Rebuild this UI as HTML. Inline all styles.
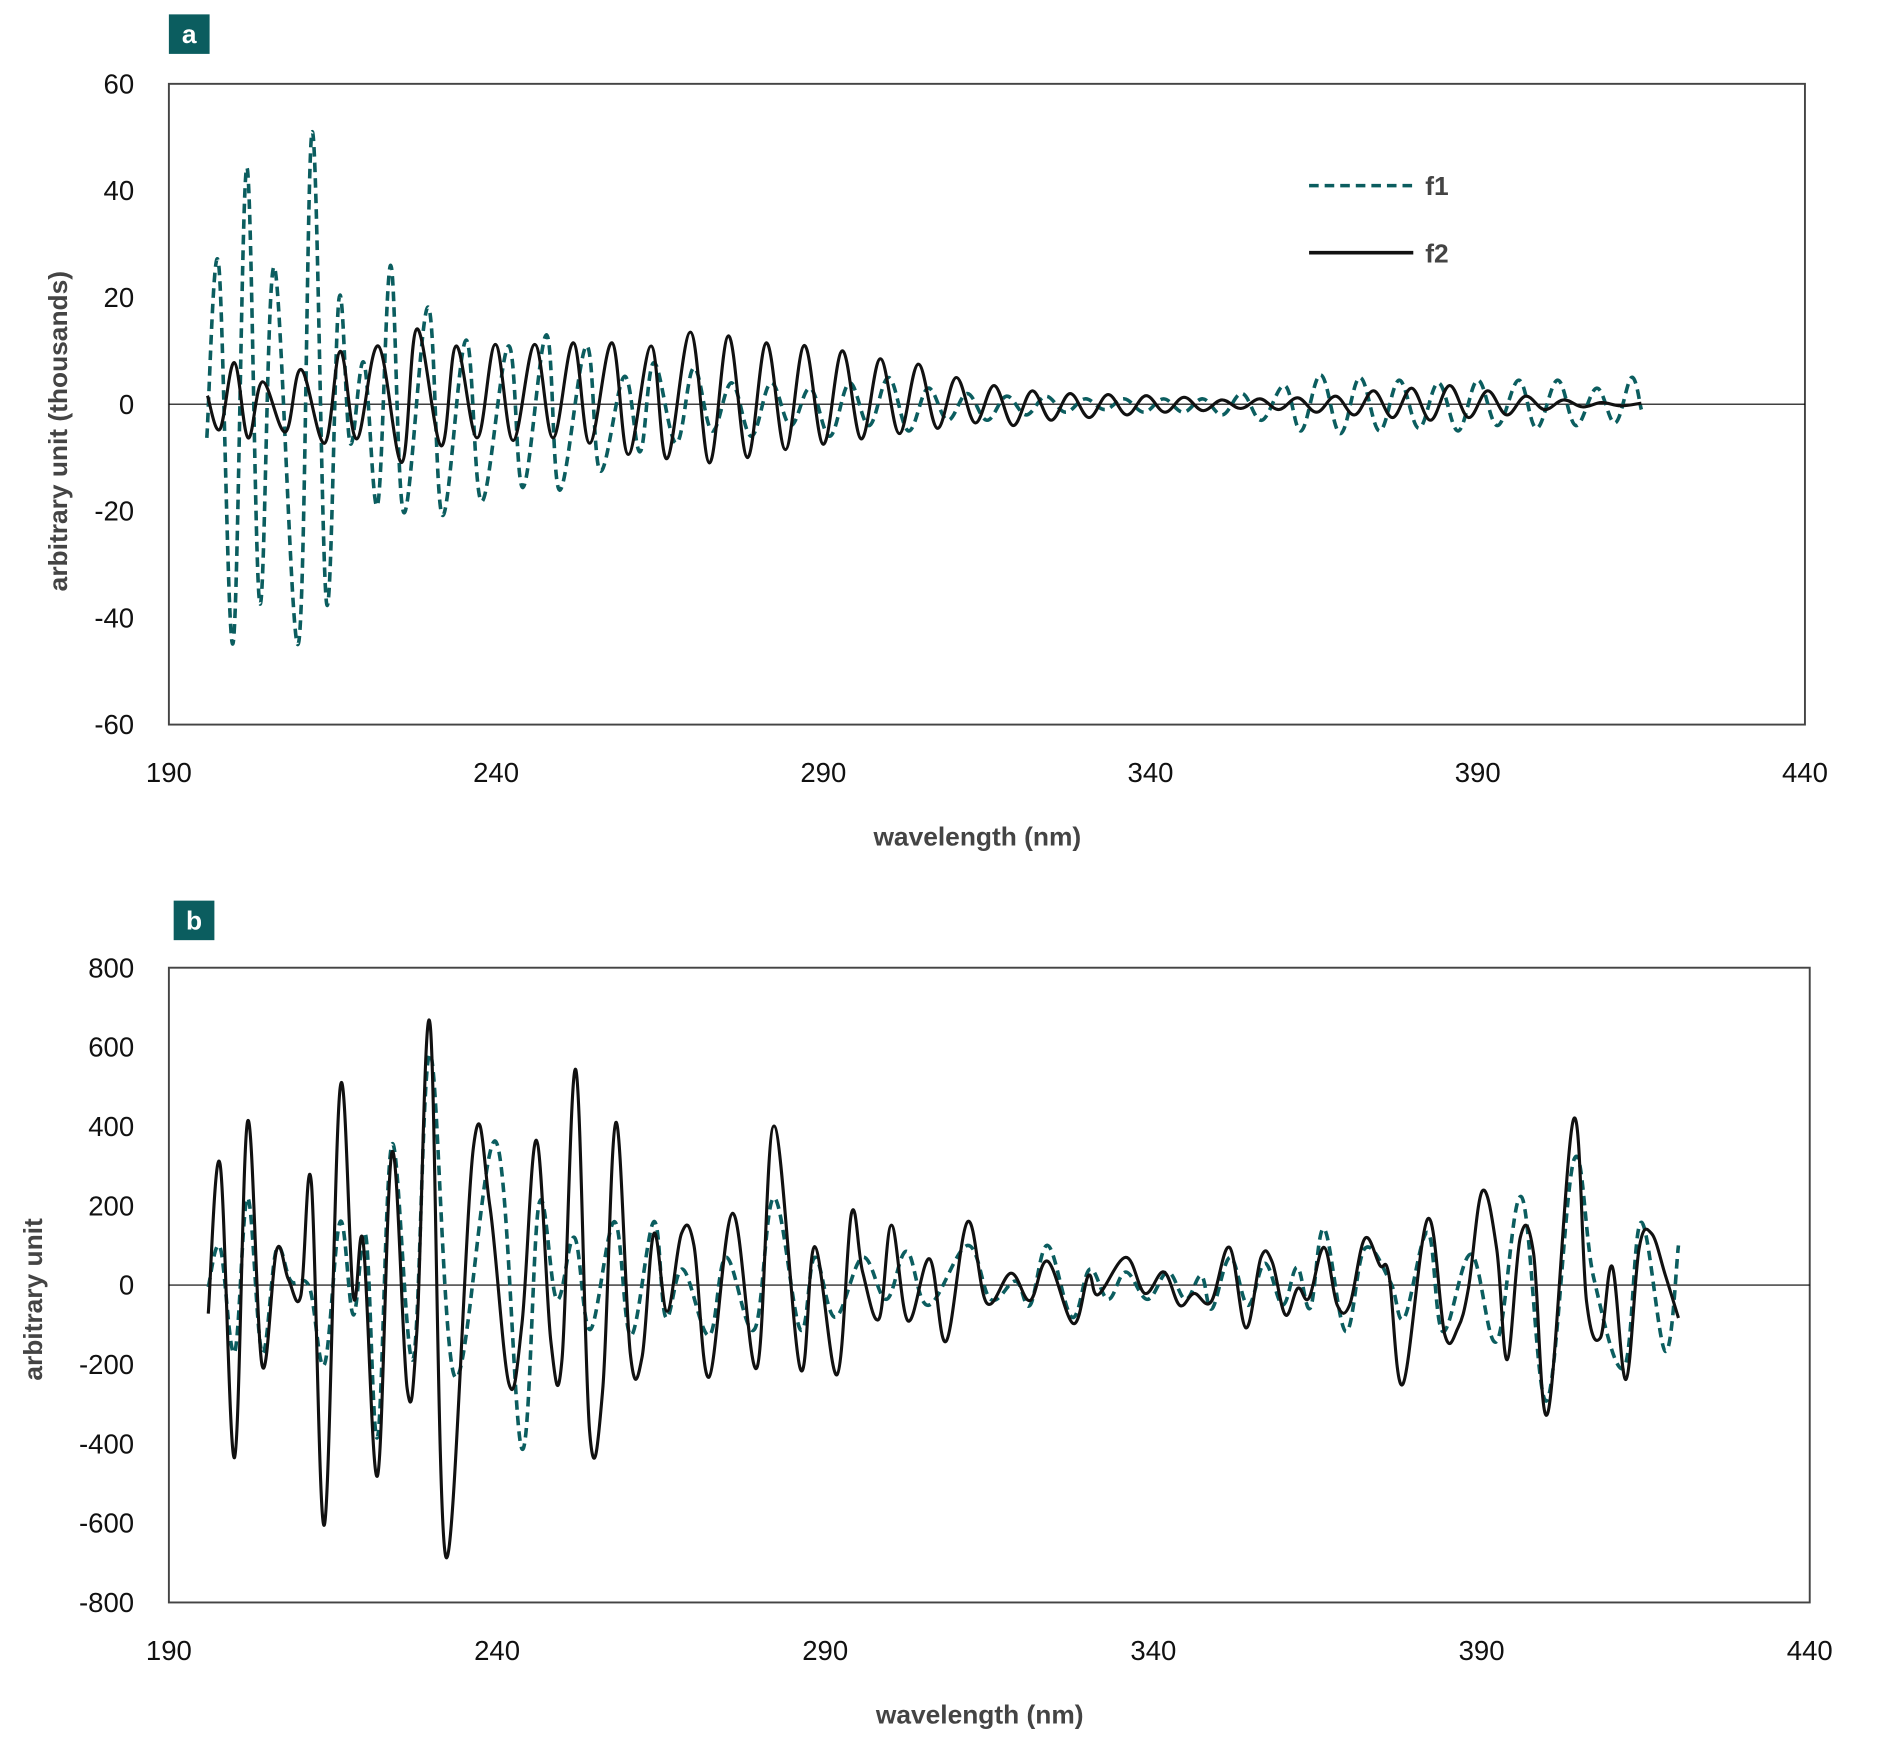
<!DOCTYPE html>
<html><head><meta charset="utf-8"><style>
html,body{margin:0;padding:0;background:#fff;}
svg{display:block;font-family:"Liberation Sans",sans-serif;}
</style></head><body>
<svg id="fig" width="1878" height="1739" viewBox="0 0 1568 1452" preserveAspectRatio="none" xmlns="http://www.w3.org/2000/svg">
<g id="ga"></g>
<g id="gb"></g>
</svg>
<script>
// ---- data ----
const xTicks = [190, 240, 290, 340, 390, 440];
const aYTicks = [60, 40, 20, 0, -20, -40, -60];
const bYTicks = [800, 600, 400, 200, 0, -200, -400, -600, -800];
const seriesNames = ["f1", "f2"];

const aF1 = [[195.8,-6.3],[197.6,26.3],[199.8,-44.8],[201.9,44.3],[203.9,-37.3],[206.1,25.7],[209.8,-44.8],[211.9,51],[214.1,-37.3],[216,19.8],[217.7,-7.3],[219.8,7.8],[221.9,-18.8],[223.9,26],[225.9,-20.3],[229.6,18.2],[231.8,-20.8],[235.4,12],[237.8,-18.2],[241.9,10.9],[244.1,-15.6],[247.7,13],[249.7,-16.1],[253.8,10.9],[255.9,-12.5],[259.6,5.2],[262,-8.9],[264.1,7.8],[267.5,-7.3],[270.2,6.8],[273,-5],[276,4],[279,-6],[282,4],[285,-4],[288,3],[291,-6],[294,4],[297,-4],[300,5],[303,-5],[306,3],[309,-3],[312,2],[315,-3],[318,1.5],[321,-2],[324,1.5],[327,-1.5],[330,1],[333,-1],[336,1],[339,-1.5],[342,1],[345,-1.5],[348,1],[351,-2],[354,2],[357,-3],[360.5,3.5],[363,-5],[366,5.5],[369,-5.5],[372,5],[375,-5],[378,4.5],[381,-4.5],[384,4],[387,-5],[390,4.5],[393,-4],[396.3,4.5],[399,-4.5],[402.2,4.5],[405,-4],[408.2,3],[411,-3.5],[413.5,5],[415,-1]];

const aF2 = [[195.9,1.6],[197.8,-4.7],[200,7.8],[202.1,-6.3],[204.3,4.2],[207.8,-5.2],[210.2,6.5],[213.8,-7.3],[216.2,9.9],[218.7,-6.5],[222,10.9],[225.6,-10.9],[227.9,14.1],[231.6,-7.8],[233.9,10.9],[237.1,-6.3],[239.9,11.2],[242.6,-6.8],[245.9,11.2],[248.7,-6.3],[251.8,11.5],[254.3,-7.3],[257.7,11.5],[260.2,-9.4],[263.7,10.9],[266.1,-10.2],[269.7,13.5],[272.6,-11],[275.5,12.8],[278.4,-10],[281.3,11.5],[284.2,-8.5],[287.1,11],[290,-7.5],[292.9,10],[295.8,-6.5],[298.7,8.5],[301.6,-5.5],[304.5,7.5],[307.4,-4.5],[310.3,5],[313.2,-3.5],[316.1,3.5],[319,-4],[321.9,2.5],[324.8,-3],[327.7,2],[330.6,-2.5],[333.5,1.8],[336.4,-2],[339.3,1.6],[342.2,-1.5],[345.1,1.3],[348,-1.2],[350.9,0.8],[353.8,-0.8],[356.7,1],[359.6,-1],[362.5,1.2],[365.4,-1.5],[368.3,1.5],[371.2,-2],[374.1,2.5],[377,-2.5],[379.9,3],[382.8,-3],[385.7,3.5],[388.6,-2.5],[391.5,2.5],[394.4,-2],[397.3,1.5],[400.2,-1],[403.1,0.8],[406,-0.5],[408.9,0.3],[411.8,-0.3],[415,0.2]];

const bF1 = [[196,-5],[197.8,95],[200,-170],[202,220],[204.2,-170],[206.4,90],[208.6,10],[211.4,-5],[213.7,-200],[216.1,160],[218.1,-75],[220,125],[221.8,-383],[224,355],[227.2,-187],[229.8,583],[233.6,-232],[239.8,362],[243.8,-413],[246.4,205],[249.1,-36],[251.8,120],[254.2,-112],[257.9,160],[260.4,-127],[263.9,160],[265.7,-81],[268.3,40],[272.3,-127],[274.9,70],[279.2,-112],[282.2,220],[286.2,-112],[288.4,70],[291.5,-81],[295.7,70],[299.3,-36],[302.4,85],[305.7,-51],[311.7,100],[315.2,-36],[319,10],[321.2,-51],[323.9,100],[327.6,-81],[330.3,40],[333.1,-36],[335.8,33],[339.1,-36],[342.2,33],[344.9,-36],[347.3,24],[348.9,-60],[351.7,70],[354.4,-51],[357,55],[359.7,-50],[361.9,45],[363.9,-58],[366,142],[369.3,-117],[372.2,92],[376.1,8],[378.2,-83],[381.8,133],[384.1,-117],[388.4,78],[392.3,-142],[396.1,222],[399.9,-292],[404.1,317],[407.1,17],[411.7,-208],[414.3,158],[418,-167],[420,100]];

const bF2 = [[196,-72],[197.8,305],[200,-435],[202,413],[204.2,-202],[206.4,88],[208.2,15],[210.1,-27],[211.7,260],[213.7,-604],[216.1,498],[218.1,-27],[219.6,109],[221.8,-480],[224,335],[226.3,-260],[227.8,-112],[229.8,658],[232.2,-685],[236.4,347],[238.9,200],[241.8,-248],[243.8,-97],[246,365],[248.2,-142],[249.9,-187],[252,543],[254.1,-368],[256.1,-263],[258.1,410],[260.3,-172],[262.1,-181],[263.9,130],[265.9,-66],[268.1,130],[270,100],[272.3,-232],[275.9,181],[279.6,-208],[282.2,401],[286.2,-211],[288.4,97],[291.8,-226],[294,181],[295.7,33],[298.2,-85],[300.1,151],[302.6,-90],[305.9,66],[308.4,-142],[311.7,160],[314.6,-45],[318.3,30],[321.2,-39],[323.9,60],[327.8,-97],[330.1,24],[331.6,-24],[335.8,70],[338.7,-21],[341.6,33],[344,-51],[346.2,-21],[348.8,-42],[351.6,95],[354.1,-108],[356.4,70],[358.1,58],[360.1,-75],[362,-8],[363.7,-33],[366,95],[368,-50],[369.9,-50],[372.2,117],[374.5,50],[375.9,25],[378,-250],[381.8,167],[384.4,-125],[386.4,-108],[388,-8],[390.1,237],[392.3,92],[393.9,-188],[395.9,120],[397.9,83],[400.1,-322],[404,417],[406,-42],[408.1,-133],[409.9,47],[412,-238],[414,92],[415.9,130],[418,25],[420,-83]];

// ---- drawing ----
const NS = "http://www.w3.org/2000/svg";
function mk(parent, tag, attrs, text) {
  const e = document.createElementNS(NS, tag);
  for (const k in attrs) e.setAttribute(k, attrs[k]);
  if (text !== undefined) e.textContent = text;
  parent.appendChild(e);
  return e;
}
function smoothPath(pts) {
  let d = "M" + pts[0][0].toFixed(2) + "," + pts[0][1].toFixed(2);
  for (let i = 0; i < pts.length - 1; i++) {
    const p0 = pts[Math.max(0, i - 1)], p1 = pts[i], p2 = pts[i + 1], p3 = pts[Math.min(pts.length - 1, i + 2)];
    const t = 0.18;
    const c1x = p1[0] + (p2[0] - p0[0]) * t, c1y = p1[1] + (p2[1] - p0[1]) * t;
    const c2x = p2[0] - (p3[0] - p1[0]) * t, c2y = p2[1] - (p3[1] - p1[1]) * t;
    d += " C" + c1x.toFixed(2) + "," + c1y.toFixed(2) + " " + c2x.toFixed(2) + "," + c2y.toFixed(2) + " " + p2[0].toFixed(2) + "," + p2[1].toFixed(2);
  }
  return d;
}
function drawChart(g, cfg) {
  const sx = w => cfg.L + (w - 190) / 250 * (cfg.R - cfg.L);
  const sy = v => cfg.B - (v - cfg.ymin) / (cfg.ymax - cfg.ymin) * (cfg.B - cfg.T);

  const box = mk(g, "rect", {x: cfg.L, y: cfg.T, width: cfg.R - cfg.L, height: cfg.B - cfg.T, fill: "none", stroke: "#444", "stroke-width": 1.6});
  
  

  const zl = mk(g, "line", {x1: cfg.L, x2: cfg.R, y1: sy(0), y2: sy(0), stroke: "#000", "stroke-width": 1});
  
  

  cfg.yt.forEach(v => {
    const t = mk(g, "text", {x: 112, y: sy(v) + 8, "text-anchor": "end", "font-size": 23, fill: "#111"}, String(v));
    
    
  });
  xTicks.forEach(w => {
    const t = mk(g, "text", {x: sx(w), y: cfg.B + 48, "text-anchor": "middle", "font-size": 23, fill: "#111"}, String(w));
    
    
  });

  const xt = mk(g, "text", {x: (cfg.L + cfg.R) / 2 - 8, y: cfg.B + 101, "text-anchor": "middle", "font-size": 22, "font-weight": "bold", fill: "#444"}, "wavelength (nm)");
  
  

  const yt = mk(g, "text", {x: 0, y: 0, "text-anchor": "middle", "font-size": 22, "font-weight": "bold", fill: "#444", transform: "translate(" + cfg.ytx + "," + cfg.yty + ") rotate(-90)"}, cfg.ytitle);
  
  

  const lb = mk(g, "rect", {x: cfg.lx, y: cfg.ly, width: 34, height: 33, fill: "#0b5d5f"});
  
  
  const lt = mk(g, "text", {x: cfg.lx + 17, y: cfg.ly + 24, "text-anchor": "middle", "font-size": 22, "font-weight": "bold", fill: "#fff"}, cfg.label);
  
  

  const p1 = mk(g, "path", {d: smoothPath(cfg.f1.map(p => [sx(p[0]), sy(p[1])])), fill: "none", stroke: "#0b5d5f", "stroke-width": 3, "stroke-dasharray": "8,5"});
  
  
  const p2 = mk(g, "path", {d: smoothPath(cfg.f2.map(p => [sx(p[0]), sy(p[1])])), fill: "none", stroke: "#111", "stroke-width": 2.6});
  
  
}

drawChart(document.getElementById("ga"), {L: 141, R: 1507, T: 70, B: 605, ymin: -60, ymax: 60, yt: aYTicks, f1: aF1, f2: aF2, ytitle: "arbitrary unit (thousands)", ytx: 56, yty: 360, label: "a", lx: 141, ly: 12});
drawChart(document.getElementById("gb"), {L: 141, R: 1511, T: 808, B: 1338, ymin: -800, ymax: 800, yt: bYTicks, f1: bF1, f2: bF2, ytitle: "arbitrary unit", ytx: 35, yty: 1085, label: "b", lx: 145, ly: 752});

// legend
const ga = document.getElementById("ga");
const leg = mk(ga, "g", {});


const l1 = mk(leg, "line", {x1: 1093, x2: 1180, y1: 155, y2: 155, stroke: "#0b5d5f", "stroke-width": 3, "stroke-dasharray": "8,5"});


const t1 = mk(leg, "text", {x: 1190, y: 163, "font-size": 22, "font-weight": "bold", fill: "#444"}, seriesNames[0]);


const l2 = mk(leg, "line", {x1: 1093, x2: 1180, y1: 211, y2: 211, stroke: "#111", "stroke-width": 3});


const t2 = mk(leg, "text", {x: 1190, y: 219, "font-size": 22, "font-weight": "bold", fill: "#444"}, seriesNames[1]);


</script>
</body></html>
